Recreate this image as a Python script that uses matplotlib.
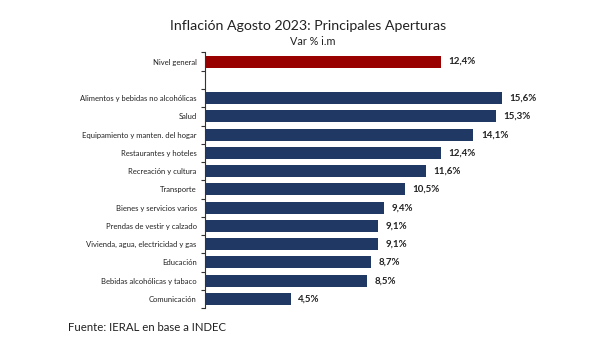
import matplotlib.pyplot as plt

# data
categories = ["Nivel general", "",
              "Alimentos y bebidas no alcohólicas", "Salud",
              "Equipamiento y manten. del hogar", "Restaurantes y hoteles",
              "Recreación y cultura", "Transporte", "Bienes y servicios varios",
              "Prendas de vestir y calzado", "Vivienda, agua, electricidad y gas",
              "Educación", "Bebidas alcohólicas y tabaco", "Comunicación"]
values = [12.4, None, 15.6, 15.3, 14.1, 12.4, 11.6, 10.5, 9.4, 9.1, 9.1, 8.7, 8.5, 4.5]
labels = ["12,4%", "", "15,6%", "15,3%", "14,1%", "12,4%", "11,6%", "10,5%",
          "9,4%", "9,1%", "9,1%", "8,7%", "8,5%", "4,5%"]

plt.rcParams['font.family'] = ['Lato', 'DejaVu Sans']

fig = plt.figure(figsize=(6.03, 3.57), dpi=100)
ax = fig.add_axes([0.34, 0.137, 0.59, 0.716])

for i, v in enumerate(values):
    if v is None:
        continue
    color = '#990000' if i == 0 else '#1F3864'
    ax.barh(i, v, height=0.66, color=color)
    ax.text(v + 0.4, i, labels[i], va='center', ha='left',
            fontsize=7, fontweight='bold', color='#222222')

ax.set_ylim(len(categories) - 0.5, -0.5)
ax.set_xlim(0, 18.7)
ax.set_yticks(range(len(categories)))
ax.set_yticklabels(categories, fontsize=5.5, color='#222222')
ax.tick_params(axis='y', length=0, pad=6)
# small ticks between categories
ax.set_yticks([i - 0.5 for i in range(len(categories) + 1)], minor=True)
ax.tick_params(axis='y', which='minor', length=3, width=0.8, color='#333333')
ax.set_xticks([])
for s in ['top', 'right', 'bottom']:
    ax.spines[s].set_visible(False)
ax.spines['left'].set_color('#333333')
ax.spines['left'].set_linewidth(0.8)

fig.text(0.511, 0.927, "Inflación Agosto 2023: Principales Aperturas",
         ha='center', va='center', fontsize=10.2, color='#222222')
fig.text(0.518, 0.884, "Var % i.m", ha='center', va='center', fontsize=7.8, color='#222222')
fig.text(0.113, 0.083, "Fuente: IERAL en base a INDEC", ha='left', va='center',
         fontsize=8.2, color='#222222')

fig.savefig('out.png', dpi=100)
